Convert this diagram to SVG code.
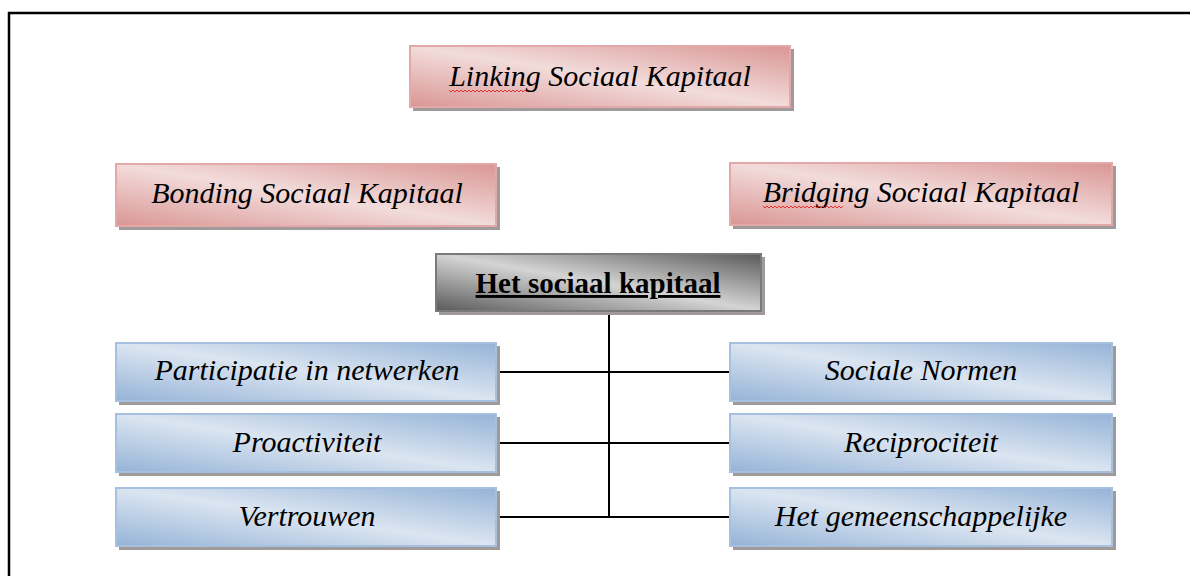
<svg xmlns="http://www.w3.org/2000/svg" width="1190" height="576" viewBox="0 0 1190 576">
<defs>
<linearGradient id="gPink" x1="0" y1="1" x2="1" y2="0">
<stop offset="0" stop-color="#d99694"/>
<stop offset="0.5" stop-color="#f2dcdb"/>
<stop offset="1" stop-color="#d99694"/>
</linearGradient>
<linearGradient id="gBlue" x1="0" y1="1" x2="1" y2="0">
<stop offset="0" stop-color="#95b3d7"/>
<stop offset="0.5" stop-color="#dbe5f1"/>
<stop offset="1" stop-color="#95b3d7"/>
</linearGradient>
<linearGradient id="gGrey" x1="0" y1="1" x2="1" y2="0">
<stop offset="0" stop-color="#5a5a5a"/>
<stop offset="0.5" stop-color="#d4d4d4"/>
<stop offset="1" stop-color="#5a5a5a"/>
</linearGradient>
</defs>
<style>
.shadow{fill:#a09a9a;}
.pink{fill:url(#gPink);stroke:#e3a9a8;stroke-width:2;}
.blue{fill:url(#gBlue);stroke:#a6c0df;stroke-width:2;}
.grey{fill:url(#gGrey);stroke:#7a7a7a;stroke-width:2;}
.lbl{font-family:"Liberation Serif","Times New Roman",serif;font-style:italic;font-size:30px;fill:#000;text-anchor:middle;}
.title{font-family:"Liberation Serif","Times New Roman",serif;font-weight:bold;font-size:29px;fill:#000;text-anchor:middle;text-decoration:underline;}
.conn{stroke:#000;stroke-width:2;fill:none;}
.squig{stroke:#e03030;stroke-width:1;fill:none;}
</style>
<rect x="9" y="13" width="1200" height="600" fill="#fff" stroke="#000" stroke-width="2.5"/>
<g id="connectors">
<line class="conn" x1="609" y1="313" x2="609" y2="517"/>
<line class="conn" x1="500" y1="372" x2="729" y2="372"/>
<line class="conn" x1="500" y1="443" x2="729" y2="443"/>
<line class="conn" x1="500" y1="517" x2="729" y2="517"/>
</g>
<g id="linking">
<rect class="shadow" x="413" y="49" width="381" height="62"/>
<rect class="pink" x="410" y="46" width="380" height="61"/>
<text class="lbl" x="600" y="86">Linking Sociaal Kapitaal</text>
<path class="squig" d="M449,90 l2,2 l2,-2 l2,2 l2,-2 l2,2 l2,-2 l2,2 l2,-2 l2,2 l2,-2 l2,2 l2,-2 l2,2 l2,-2 l2,2 l2,-2 l2,2 l2,-2 l2,2 l2,-2 l2,2 l2,-2 l2,2 l2,-2 l2,2 l2,-2 l2,2 l2,-2 l2,2 l2,-2 l2,2 l2,-2 l2,2 l2,-2 l2,2 l2,-2 l2,2 l2,-2 l2,2"/>
</g>
<g id="bonding">
<rect class="shadow" x="119" y="167" width="381" height="63"/>
<rect class="pink" x="116" y="164" width="380" height="62"/>
<text class="lbl" x="307" y="203">Bonding Sociaal Kapitaal</text>
</g>
<g id="bridging">
<rect class="shadow" x="733" y="166" width="383" height="63"/>
<rect class="pink" x="730" y="163" width="382" height="62"/>
<text class="lbl" x="921" y="202">Bridging Sociaal Kapitaal</text>
<path class="squig" d="M763,206 l2,2 l2,-2 l2,2 l2,-2 l2,2 l2,-2 l2,2 l2,-2 l2,2 l2,-2 l2,2 l2,-2 l2,2 l2,-2 l2,2 l2,-2 l2,2 l2,-2 l2,2 l2,-2 l2,2 l2,-2 l2,2 l2,-2 l2,2 l2,-2 l2,2 l2,-2 l2,2 l2,-2 l2,2 l2,-2 l2,2 l2,-2 l2,2 l2,-2 l2,2 l2,-2 l2,2 l2,-2"/>
</g>
<g id="het-sociaal-kapitaal">
<rect class="shadow" x="439" y="257" width="326" height="58"/>
<rect class="grey" x="436" y="254" width="325" height="57"/>
<text class="title" x="598" y="293">Het sociaal kapitaal</text>
</g>
<g id="participatie">
<rect class="shadow" x="119" y="346" width="381" height="59"/>
<rect class="blue" x="116" y="343" width="380" height="58"/>
<text class="lbl" x="307" y="380">Participatie in netwerken</text>
</g>
<g id="proactiviteit">
<rect class="shadow" x="119" y="417" width="381" height="59"/>
<rect class="blue" x="116" y="414" width="380" height="58"/>
<text class="lbl" x="307" y="452">Proactiviteit</text>
</g>
<g id="vertrouwen">
<rect class="shadow" x="119" y="491" width="381" height="59"/>
<rect class="blue" x="116" y="488" width="380" height="58"/>
<text class="lbl" x="307" y="526">Vertrouwen</text>
</g>
<g id="sociale-normen">
<rect class="shadow" x="733" y="346" width="383" height="59"/>
<rect class="blue" x="730" y="343" width="382" height="58"/>
<text class="lbl" x="921" y="380">Sociale Normen</text>
</g>
<g id="reciprociteit">
<rect class="shadow" x="733" y="417" width="383" height="59"/>
<rect class="blue" x="730" y="414" width="382" height="58"/>
<text class="lbl" x="921" y="452">Reciprociteit</text>
</g>
<g id="het-gemeenschappelijke">
<rect class="shadow" x="733" y="491" width="383" height="59"/>
<rect class="blue" x="730" y="488" width="382" height="58"/>
<text class="lbl" x="921" y="526">Het gemeenschappelijke</text>
</g>
</svg>
